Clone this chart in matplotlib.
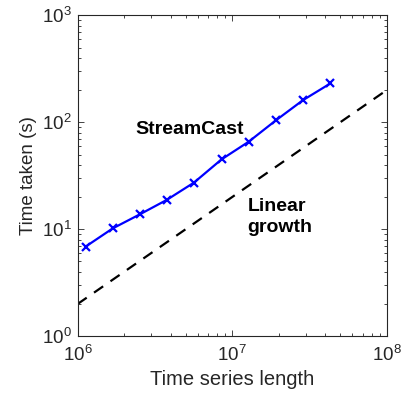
import matplotlib
matplotlib.use("Agg")
import matplotlib.pyplot as plt

plt.rcParams['font.family'] = ['Liberation Sans', 'DejaVu Sans']
plt.rcParams['mathtext.fontset'] = 'custom'
plt.rcParams['mathtext.rm'] = 'Liberation Sans'
plt.rcParams['mathtext.it'] = 'Liberation Sans'

# Runtime of StreamCast against series length
series_length = [1.13e6, 1.69e6, 2.53e6, 3.77e6, 5.66e6, 8.55e6, 1.28e7, 1.92e7, 2.88e7, 4.32e7]
time_taken = [6.9, 10.2, 13.8, 18.8, 27.3, 45.1, 65.9, 104.4, 161.6, 231.0]

# Reference line for linear growth
linear_x = [1e6, 1e8]
linear_y = [2, 200]

fig = plt.figure(figsize=(4.04, 3.96), dpi=100)
ax = fig.add_axes([0.192, 0.151, 0.765, 0.810])

ax.plot(series_length, time_taken, color='#0000ff', lw=1.6, marker='x',
        markersize=6, markeredgewidth=1.6)
ax.plot(linear_x, linear_y, color='black', lw=1.6, linestyle=(0, (5, 4)))

ax.set_xscale('log')
ax.set_yscale('log')
ax.set_xlim(1e6, 1e8)
ax.set_ylim(1e0, 1e3)

ax.text(5.3e6, 86, 'StreamCast', fontsize=14, fontweight='bold',
        ha='center', va='center')
ax.text(1.26e7, 13.0, 'Linear\ngrowth', fontsize=14, fontweight='bold',
        ha='left', va='center', linespacing=1.3)

ax.set_xlabel('Time series length', fontsize=14.5, color='#262626', labelpad=4)
ax.set_ylabel('Time taken (s)', fontsize=13.5, color='#262626', labelpad=4)

ax.tick_params(which='both', direction='in', top=True, right=True,
               colors='#262626', labelsize=13.5)
ax.tick_params(which='major', length=4, width=0.6)
ax.tick_params(which='minor', length=2.5, width=0.6)
ax.tick_params(axis='x', pad=6)
ax.tick_params(axis='y', pad=4)
for s in ax.spines.values():
    s.set_linewidth(0.8)
    s.set_color('#262626')

fig.savefig('out.png', dpi=100)
